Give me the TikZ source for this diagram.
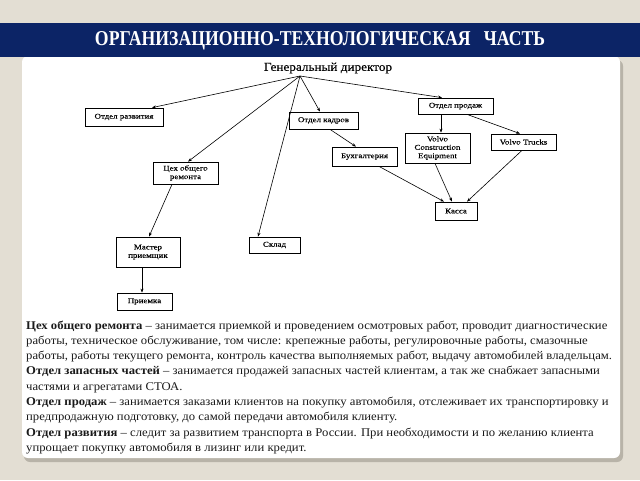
\documentclass[tikz,border=0pt]{standalone}
\usepackage{fontspec}
\usepackage{graphicx}
\setmainfont{Liberation Serif}
\newfontfamily\bodyfont[FakeStretch=1.075]{Liberation Serif}
\newfontfamily\dirfont[FakeStretch=1.1,FakeBold=0.3]{Liberation Serif}
\newfontfamily\boxfont[FakeStretch=1.2,FakeBold=0.4]{Liberation Serif}
\usetikzlibrary{arrows.meta}
\definecolor{bgc}{HTML}{E3DED3}
\definecolor{navy}{HTML}{0C2466}
\definecolor{shad}{HTML}{B8B3A8}
\definecolor{ink}{HTML}{1A1A1A}
\tikzset{
  box/.style={draw=black, line width=0.75pt, fill=white, inner sep=1pt, align=center, font=\boxfont\fontsize{7.4}{8.4}\selectfont},
  arr/.style={line width=0.6pt, -{Stealth[length=4pt,width=3pt]}},
  bodyline/.style={anchor=base west, inner sep=0pt, text=ink, font=\bodyfont\fontsize{11.8}{14}\selectfont}
}
\begin{document}
\begin{tikzpicture}[x=1pt,y=-1pt]
\useasboundingbox (0,0) rectangle (640,480);
\fill[bgc] (0,0) rectangle (640,480);
% panel shadow and panel
\fill[shad,rounded corners=6pt] (24,60) rectangle (623,462);
\fill[white,rounded corners=6pt] (22,56) rectangle (620,458);
% banner
\fill[navy] (0,23) rectangle (640,57);
\node[text=white, inner sep=0pt] (title) at (320,41) {\resizebox{450pt}{14pt}{\bfseries ОРГАНИЗАЦИОННО-ТЕХНОЛОГИЧЕСКАЯ\ \ \ ЧАСТЬ}};
% org chart
\node[inner sep=0pt, font=\dirfont\fontsize{12}{13}\selectfont] (dir) at (328,68) {Генеральный директор};
\coordinate (g) at (300,76);
\node[box, minimum width=78pt, minimum height=18pt] (razv) at (124,117) {Отдел развития};
\node[box, minimum width=69pt, minimum height=17pt] (kadr) at (323.5,120.5) {Отдел кадров};
\node[box, minimum width=75pt, minimum height=16pt] (prod) at (455.5,106) {Отдел продаж};
\node[box, minimum width=65pt, minimum height=19pt] (buh) at (364.5,156.5) {Бухгалтерия};
\node[box, minimum width=65pt, minimum height=30pt] (vce) at (437.5,148) {Volvo\\Construction\\Equipment};
\node[box, minimum width=65pt, minimum height=16pt] (vt) at (523.5,142) {Volvo Trucks};
\node[box, minimum width=42pt, minimum height=18pt] (kassa) at (456,211) {Касса};
\node[box, minimum width=65pt, minimum height=22pt] (ceh) at (185.5,173) {Цех общего\\ремонта};
\node[box, minimum width=64pt, minimum height=30pt] (master) at (148,252) {Мастер\\приемщик};
\node[box, minimum width=51pt, minimum height=16pt] (sklad) at (274.5,245) {Склад};
\node[box, minimum width=55pt, minimum height=17pt] (priem) at (144.5,301.5) {Приемка};
% connectors
\draw[arr] (g) -- ([xshift=28pt]razv.north);
\draw[arr] (g) -- ([xshift=2.5pt]ceh.north);
\draw[arr] (g) -- ([xshift=-16.5pt]sklad.north);
\draw[arr] (g) -- ([xshift=-3.5pt]kadr.north);
\draw[arr] (g) -- ([xshift=-13.5pt]prod.north);
\draw[arr] ([xshift=6.5pt]kadr.south) -- ([xshift=-8.5pt]buh.north);
\draw[arr] ([xshift=-14.5pt]prod.south) -- ([xshift=3.5pt]vce.north);
\draw[arr] ([xshift=11.5pt]prod.south) -- ([xshift=-3.5pt]vt.north);
\draw[arr] ([xshift=14.5pt]buh.south) -- ([xshift=-12pt]kassa.north);
\draw[arr] ([xshift=-2.5pt]vce.south) -- ([xshift=-4pt]kassa.north);
\draw[arr] ([xshift=-1.5pt]vt.south) -- ([xshift=11pt]kassa.north);
\draw[arr] ([xshift=-13.5pt]ceh.south) -- ([xshift=1pt]master.north);
\draw[arr] ([xshift=-6pt]master.south) -- ([xshift=-2.5pt]priem.north);
% text
\node[bodyline] (t1) at (26,329) {\textbf{Цех общего ремонта} – занимается приемкой и проведением осмотровых работ, проводит диагностические};
\node[bodyline] (t2) at (26,344.3) {работы, техническое обслуживание, том числе: крепежные работы, регулировочные работы, смазочные};
\node[bodyline] (t3) at (26,359.6) {работы, работы текущего ремонта, контроль качества выполняемых работ, выдачу автомобилей владельцам.};
\node[bodyline] (t4) at (26,374.9) {\textbf{Отдел запасных частей} – занимается продажей запасных частей клиентам, а так же снабжает запасными};
\node[bodyline] (t5) at (26,390.2) {частями и агрегатами СТОА.};
\node[bodyline] (t6) at (26,405.5) {\textbf{Отдел продаж} – занимается заказами клиентов на покупку автомобиля, отслеживает их транспортировку и};
\node[bodyline] (t7) at (26,420.8) {предпродажную подготовку, до самой передачи автомобиля клиенту.};
\node[bodyline] (t8) at (26,436.1) {\textbf{Отдел развития} – следит за развитием транспорта в России. При необходимости и по желанию клиента};
\node[bodyline] (t9) at (26,451.4) {упрощает покупку автомобиля в лизинг или кредит.};
\end{tikzpicture}
\end{document}
